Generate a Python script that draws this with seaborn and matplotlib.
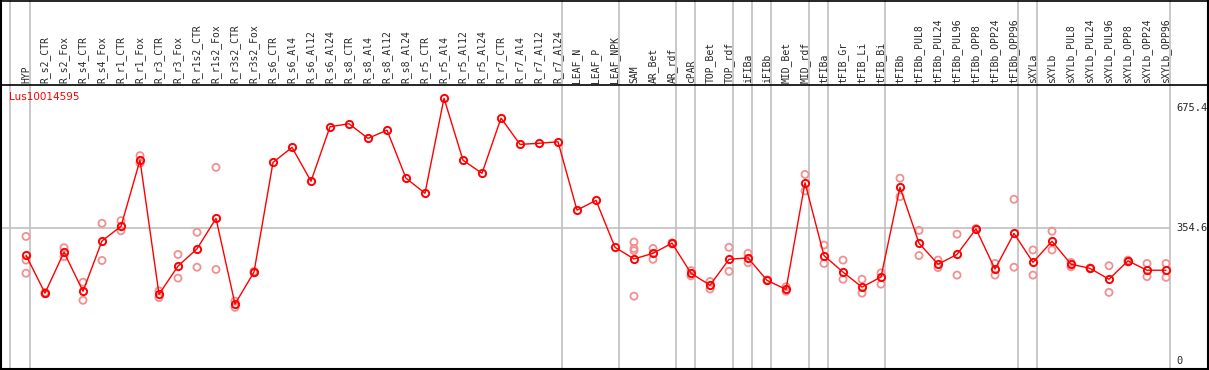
import numpy as np
import pandas as pd
import matplotlib
matplotlib.use("Agg")
import matplotlib.pyplot as plt
import seaborn as sns

samples = ["HYP", "R_s2_CTR", "R_s2_Fox", "R_s4_CTR", "R_s4_Fox", "R_r1_CTR", "R_r1_Fox",
           "R_r3_CTR", "R_r3_Fox", "R_r1s2_CTR", "R_r1s2_Fox", "R_r3s2_CTR", "R_r3s2_Fox",
           "R_s6_CTR", "R_s6_Al4", "R_s6_Al12", "R_s6_Al24", "R_s8_CTR", "R_s8_Al4",
           "R_s8_Al12", "R_s8_Al24", "R_r5_CTR", "R_r5_Al4", "R_r5_Al12", "R_r5_Al24",
           "R_r7_CTR", "R_r7_Al4", "R_r7_Al12", "R_r7_Al24", "LEAF_N", "LEAF_P", "LEAF_NPK",
           "SAM", "AR_Bet", "AR_rdf", "cPAR", "TOP_Bet", "TOP_rdf", "iFIBa", "iFIBb",
           "MID_Bet", "MID_rdf", "tFIBa", "tFIB_Gr", "tFIB_Li", "tFIB_Bi", "tFIBb",
           "tFIBb_PUL8", "tFIBb_PUL24", "tFIBb_PUL96", "tFIBb_OPP8", "tFIBb_OPP24",
           "tFIBb_OPP96", "sXYLa", "sXYLb", "sXYLb_PUL8", "sXYLb_PUL24", "sXYLb_PUL96",
           "sXYLb_OPP8", "sXYLb_OPP24", "sXYLb_OPP96"]

means = [283, 182, 291, 187, 321, 360, 536, 179, 254, 300, 381, 153, 238,
         530, 570, 480, 625, 633, 594, 616, 488, 448, 701, 536, 501, 648, 578, 581, 585,
         403, 429, 304, 273, 288, 315, 235, 203, 272, 276, 216, 192, 476,
         282, 238, 198, 225, 464, 315, 259, 285, 353, 246, 341,
         264, 320, 259, 248, 219, 268, 243, 243]

replicates = [[333, 270, 235], [180, 184], [303, 279], [211, 163], [368, 269], [375, 348],
              [548, 528], [188, 170], [285, 222], [344, 251], [517, 245], [161, 144], [236, 240],
              [], [], [], [], [], [], [], [], [], [], [], [], [], [], [], [],
              [], [], [],
              [318, 301, 295, 174], [301, 272], [316, 313], [242, 228], [213, 193], [304, 240],
              [288, 263], [217, 215], [199, 187], [498, 454],
              [310, 261], [270, 219], [219, 182], [236, 206], [488, 439], [349, 282],
              [270, 250], [339, 230], [354, 352], [261, 230], [432, 251],
              [297, 230], [347, 297], [264, 252], [249, 247], [255, 184], [270, 265],
              [261, 226], [261, 224]]

# last sample index of each group (grey separator drawn after it)
group_ends = [0, 28, 31, 34, 35, 37, 38, 39, 41, 42, 45, 52, 53, 60]
scale_ticks = [675.4, 354.6, 0]
gene = "Lus10014595"

W, H = 1209, 370


# pixel helpers (pixel coords of the reference picture)
def px_x(p):
    return (p - 26) / 19.0


def px_y(p):
    return (361.5 - p) / 0.3756


sns.set_style("white")
plt.rcParams["font.family"] = ["DejaVu Sans Mono", "DejaVu Sans"]

fig = plt.figure(figsize=(W / 100, H / 100), dpi=100)
ax = fig.add_axes([0, 0, 1, 1])
ax.set_xlim(px_x(0), px_x(W))
ax.set_ylim(px_y(H), px_y(0))
ax.axis("off")

pos = np.arange(len(samples))

# separators
grey = "#c0c0c0"
ax.axvline(px_x(10.5), color=grey, lw=1.2, zorder=1)
for g in group_ends:
    ax.axvline(g + 0.23, color=grey, lw=1.2, zorder=1)
ax.hlines(354.6, px_x(1), group_ends[-1] + 0.23, color=grey, lw=1.2, zorder=1)

# borders
ax.axhline(px_y(0.5), color="black", lw=1.2)
ax.axhline(px_y(85), color="black", lw=1.2)
ax.axhline(px_y(369), color="black", lw=1.5)
ax.axvline(px_x(1), color="black", lw=1.5)
ax.axvline(px_x(1208), color="black", lw=1.5)

# replicates
rep_df = pd.DataFrame([(i, v) for i, r in enumerate(replicates) for v in r],
                      columns=["pos", "value"])
sns.scatterplot(data=rep_df, x="pos", y="value", ax=ax, marker="o", s=26,
                facecolors="none", edgecolor="#f09090", linewidth=1.3, zorder=2)

# means
sns.lineplot(x=pos, y=means, ax=ax, color="red", lw=1, marker="o", ms=5.2,
             markerfacecolor="none", markeredgecolor="red", markeredgewidth=1.4, zorder=3)

# sample labels in the header
for i, s in enumerate(samples):
    ax.text(i, px_y(83), s, rotation=90, ha="center", va="bottom", fontsize=7,
            family="DejaVu Sans Mono")

ax.text(px_x(9), px_y(97), gene, color="red", fontsize=7.5, ha="left", va="center",
        family="DejaVu Sans")

for t in scale_ticks:
    ax.text(px_x(1176), t, f"{t:g}", fontsize=7.5, ha="left", va="center",
            family="DejaVu Sans Mono")

fig.savefig("out.png", dpi=100)
